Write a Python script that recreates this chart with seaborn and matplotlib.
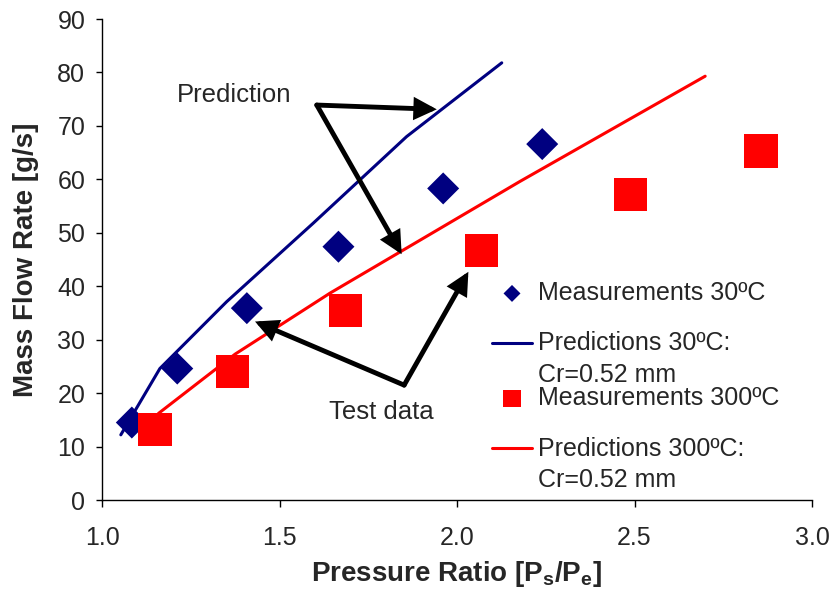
import numpy as np
import pandas as pd
import matplotlib
matplotlib.use("Agg")
import matplotlib.pyplot as plt
import seaborn as sns
from matplotlib.legend_handler import HandlerLine2D

# measured points
meas30_x = [1.084, 1.212, 1.408, 1.666, 1.961, 2.240]
meas30_y = [14.5, 24.6, 35.9, 47.4, 58.3, 66.6]
meas300_x = [1.149, 1.368, 1.685, 2.069, 2.489, 2.856]
meas300_y = [13.2, 24.0, 35.4, 46.7, 57.2, 65.3]

# predicted curves
pred30_x = [1.053, 1.163, 1.351, 1.595, 1.858, 2.126]
pred30_y = [12.2, 24.6, 37.1, 51.8, 68.0, 81.8]
pred300_x = [1.159, 1.375, 1.642, 2.177, 2.699]
pred300_y = [16.2, 27.3, 38.7, 59.6, 79.3]

x_ticks = [1.0, 1.5, 2.0, 2.5, 3.0]
y_ticks = [0, 10, 20, 30, 40, 50, 60, 70, 80, 90]

NAVY = "#000080"
RED = "#ff0000"


class TopLineHandler(HandlerLine2D):
    """put the line next to the first row of a two-row label"""
    def create_artists(self, legend, orig_handle, xdescent, ydescent,
                       width, height, fontsize, trans):
        arts = super().create_artists(legend, orig_handle, xdescent, ydescent,
                                      width, height, fontsize, trans)
        for a in arts:
            a.set_ydata(np.asarray(a.get_ydata()) + 0.68 * fontsize)
        return arts


sns.set_style("ticks")
plt.rcParams["font.family"] = ["Liberation Sans", "DejaVu Sans"]

fig = plt.figure(figsize=(8.32, 5.94), dpi=100)
ax = fig.add_axes([0.1226, 0.1582, 0.8534, 0.8098])

m30 = pd.DataFrame({"x": meas30_x, "y": meas30_y})
m300 = pd.DataFrame({"x": meas300_x, "y": meas300_y})
p30 = pd.DataFrame({"x": pred30_x, "y": pred30_y})
p300 = pd.DataFrame({"x": pred300_x, "y": pred300_y})

sns.scatterplot(data=m30, x="x", y="y", marker="D", s=16.3**2, color=NAVY,
                edgecolor="none", ax=ax, label="Measurements 30ºC", zorder=3)
sns.lineplot(data=p30, x="x", y="y", sort=False, estimator=None, color=NAVY,
             lw=2.2, ax=ax, label="Predictions 30ºC:\nCr=0.52 mm")
sns.scatterplot(data=m300, x="x", y="y", marker="s", s=24**2, color=RED,
                edgecolor="none", ax=ax, label="Measurements 300ºC", zorder=3)
sns.lineplot(data=p300, x="x", y="y", sort=False, estimator=None, color=RED,
             lw=2.2, ax=ax, label="Predictions 300ºC:\nCr=0.52 mm")

# annotation arrows
arrow = dict(arrowstyle="-|>", lw=3.5, color="black", mutation_scale=28,
             shrinkA=0, shrinkB=0, joinstyle="miter")
ax.annotate("", xy=(1.943, 73.1), xytext=(1.605, 73.9), arrowprops=arrow)
ax.annotate("", xy=(1.844, 46.0), xytext=(1.605, 73.9), arrowprops=arrow)
ax.annotate("", xy=(1.431, 33.4), xytext=(1.851, 21.5), arrowprops=arrow)
ax.annotate("", xy=(2.032, 42.7), xytext=(1.851, 21.5), arrowprops=arrow)
ax.text(1.372, 75.8, "Prediction", fontsize=18.5, ha="center", va="center")
ax.text(1.786, 16.5, "Test data", fontsize=18.5, ha="center", va="center")

ax.set_xlim(1.0, 3.0)
ax.set_ylim(0, 90)
ax.set_xticks(x_ticks)
ax.set_xticklabels([f"{t:.1f}" for t in x_ticks])
ax.set_yticks(y_ticks)
ax.tick_params(axis="both", labelsize=18, color="black", width=1,
               direction="out")
ax.tick_params(axis="x", length=5, pad=14)
ax.tick_params(axis="y", length=4, pad=8)
sns.despine(ax=ax)
for sp in ["left", "bottom"]:
    ax.spines[sp].set_color("black")
    ax.spines[sp].set_linewidth(1)

ax.set_xlabel("Pressure Ratio [P$_\\mathregular{s}$/P$_\\mathregular{e}$]",
              fontsize=20, fontweight="bold", labelpad=6)
ax.set_ylabel("Mass Flow Rate [g/s]", fontsize=20, fontweight="bold",
              labelpad=13)

# two legend blocks, as in the original layout
handles, labels = ax.get_legend_handles_labels()
ax.get_legend().remove()
leg_kw = dict(frameon=False, fontsize=18, markerscale=0.53, handlelength=1.6,
              handletextpad=0.25, labelspacing=1.06, borderaxespad=0,
              borderpad=0, loc="upper left", bbox_transform=fig.transFigure,
              handler_map={handles[1]: TopLineHandler(),
                           handles[3]: TopLineHandler()})
leg1 = ax.legend(handles[:2], labels[:2],
                 bbox_to_anchor=(492 / 832, 1 - 281 / 594), **leg_kw)
for t in leg1.get_texts():
    t.set_linespacing(1.38)
ax.add_artist(leg1)
leg2 = ax.legend(handles[2:], labels[2:],
                 bbox_to_anchor=(492 / 832, 1 - 386 / 594), **leg_kw)
for t in leg2.get_texts():
    t.set_linespacing(1.38)

fig.savefig("out.png", dpi=100)
